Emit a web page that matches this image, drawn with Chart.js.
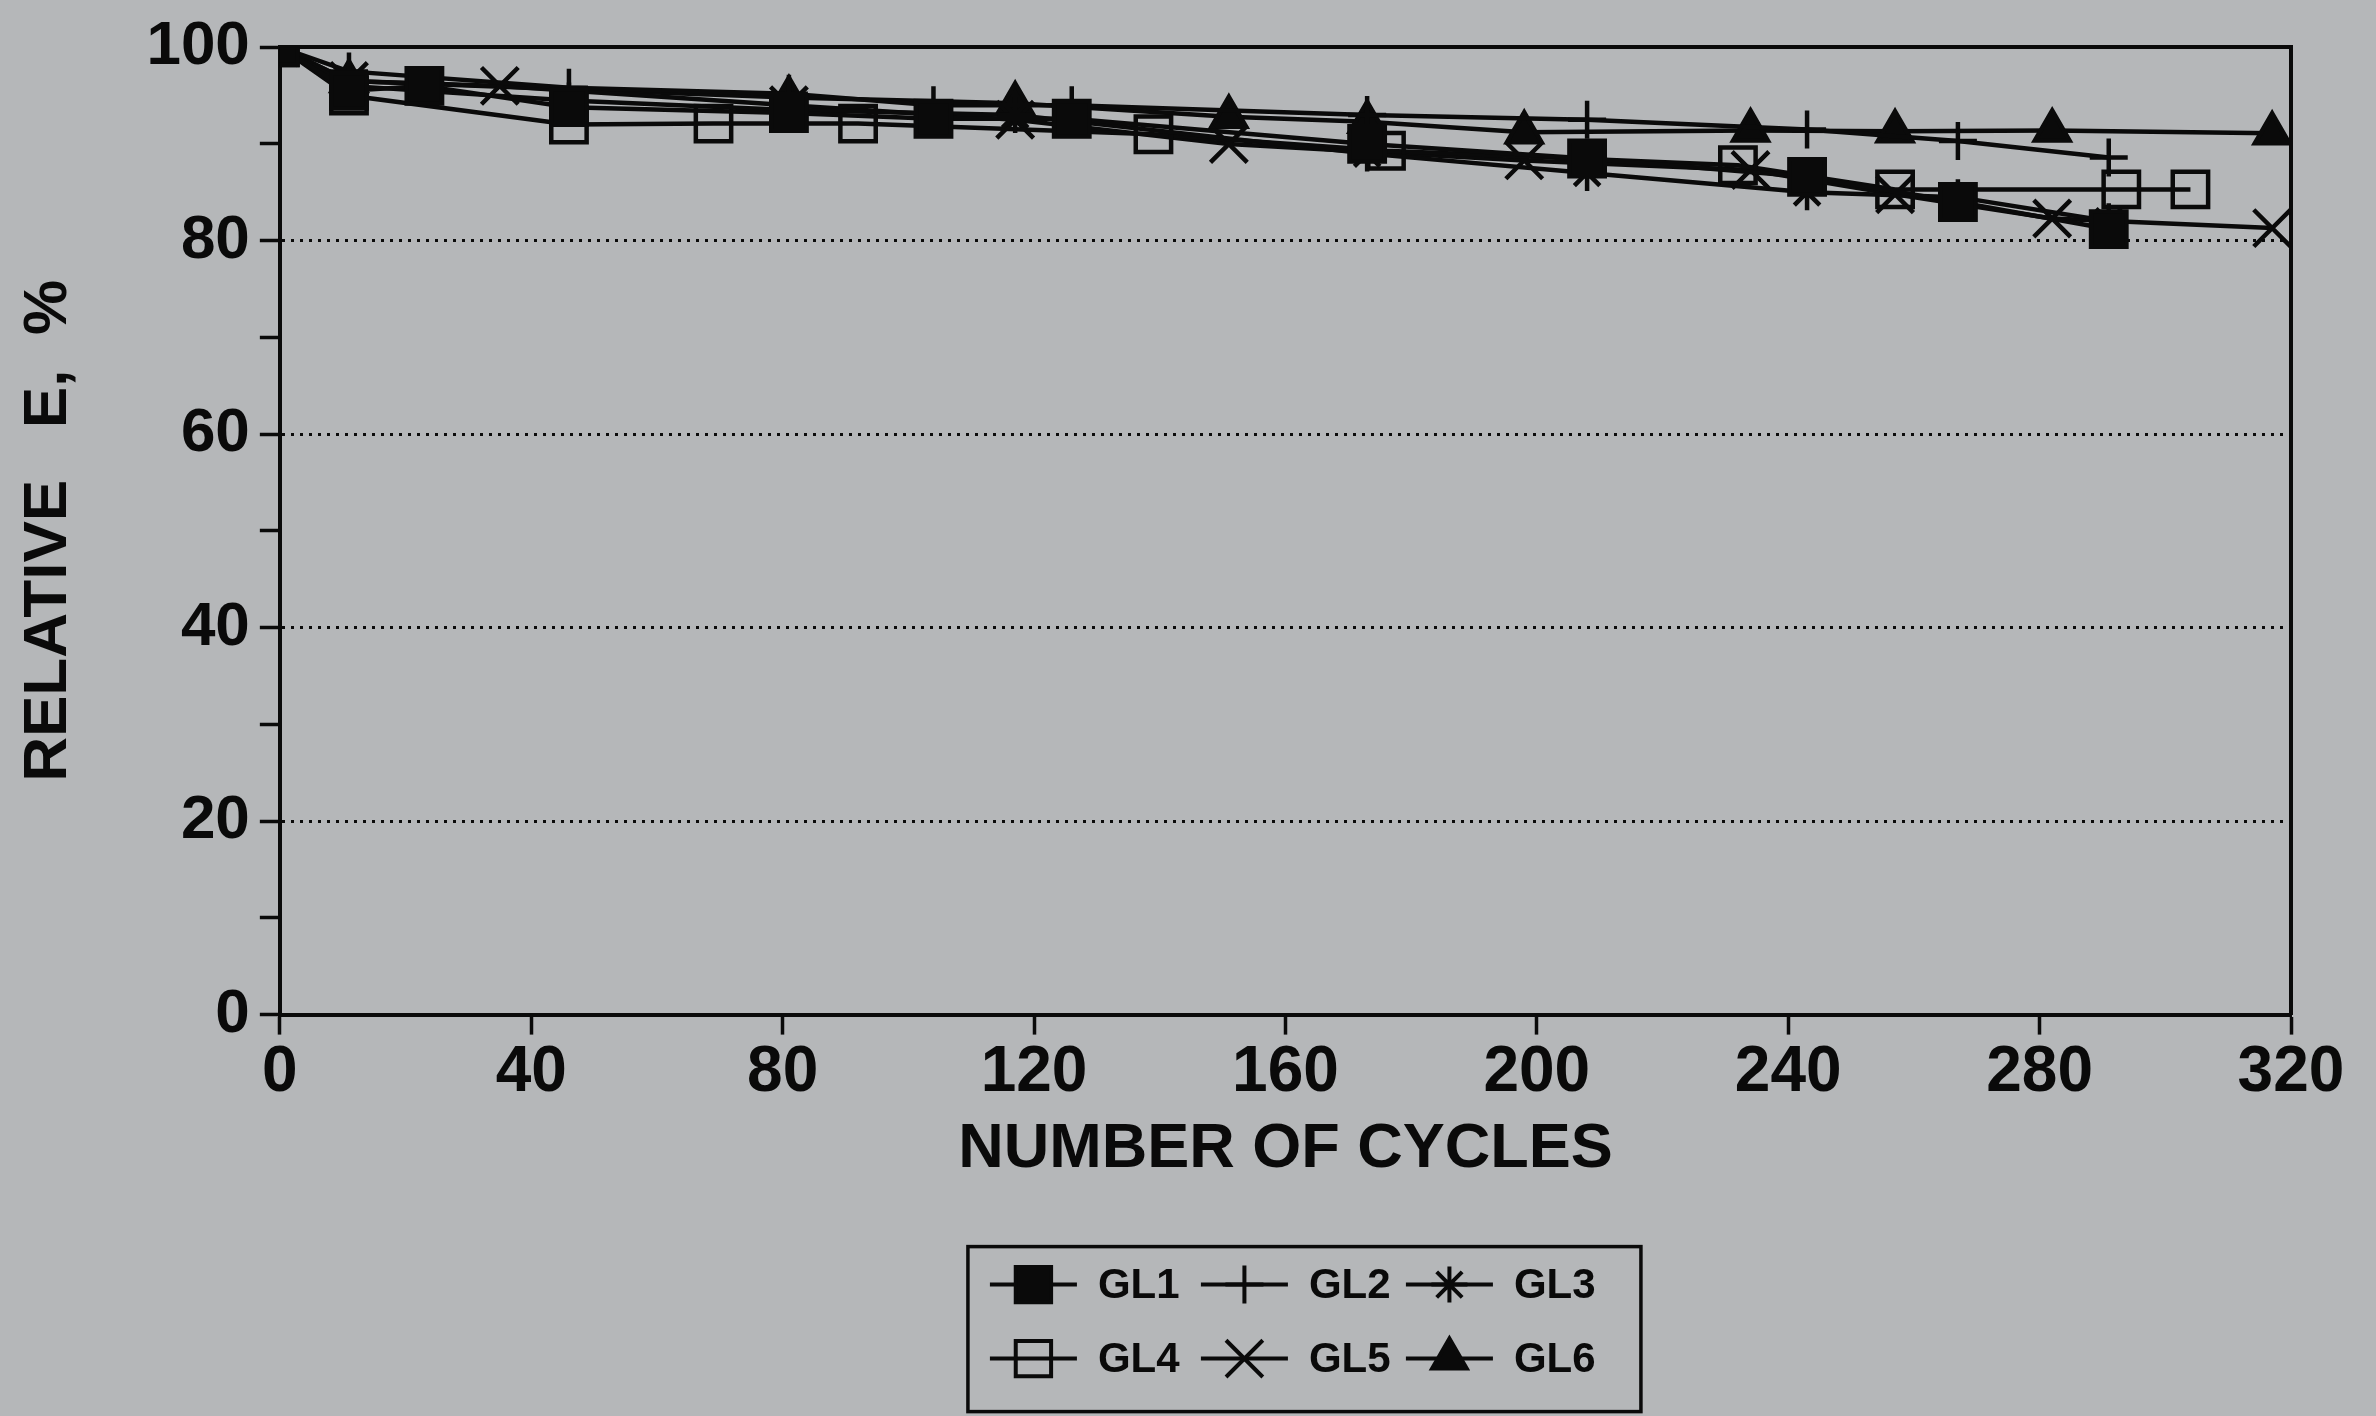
<!DOCTYPE html>
<html>
<head>
<meta charset="utf-8">
<script src="https://cdn.jsdelivr.net/npm/chart.js"></script>
<style>
  html, body { margin: 0; padding: 0; background: #b5b7b9; }
  #wrap { width: 2376px; height: 1416px; position: relative; }
</style>
</head>
<body>
<div id="wrap"><canvas id="chart"></canvas></div>
<script>
// values (relative E in % vs number of cycles)
const seriesNames = ['GL1', 'GL2', 'GL3', 'GL4', 'GL5', 'GL6'];

const gl1Cycles = [0, 11, 23, 46, 81, 104, 126, 173, 208, 243, 267, 291];
const gl1Values = [100, 95.5, 96, 93.8, 93.2, 92.6, 92.6, 90, 88.5, 86.6, 84, 81.2];

const gl2Cycles = [0, 11, 46, 81, 104, 126, 173, 208, 243, 267, 291];
const gl2Values = [100, 97.5, 95.8, 95.2, 94, 94, 93, 92.5, 91.5, 90.3, 88.6];

const gl3Cycles = [0, 11, 46, 81, 117, 173, 208, 243, 267, 291];
const gl3Values = [100, 96, 94.5, 93.5, 93, 89, 87, 85, 84.5, 82];

const gl4Cycles = [0, 11, 46, 69, 92, 139, 176, 232, 257, 293, 304];
const gl4Values = [100, 95, 92, 92.1, 92.1, 91, 89.3, 87.8, 85.3, 85.3, 85.3];

const gl5Cycles = [0, 11, 35, 81, 117, 151, 198, 234, 257, 282, 317];
const gl5Values = [100, 96.5, 96, 94, 92.5, 90, 88.3, 87.3, 84.8, 82.3, 81.3];

const gl6Cycles = [0, 11, 81, 117, 151, 173, 198, 234, 257, 282, 317];
const gl6Values = [100, 96.5, 94.8, 94.2, 92.8, 92.3, 91.2, 91.4, 91.3, 91.4, 91.1];

const xTicks = [0, 40, 80, 120, 160, 200, 240, 280, 320];
const yLabelTicks = [0, 20, 40, 60, 80, 100];
const yGridTicks = [20, 40, 60, 80];

const BG = '#b5b7b9';
const INK = '#0a0a0a';
const FONT = '"Liberation Sans", Arial, Helvetica, sans-serif';

const markerStyles = [
    { pointStyle: 'rect', radius: 25, fill: INK },
    { pointStyle: 'cross', radius: 19, fill: INK },
    { pointStyle: 'star', radius: 18, fill: INK },
    { pointStyle: 'rect', radius: 25, fill: 'rgba(0,0,0,0)' },
    { pointStyle: 'crossRot', radius: 26, fill: INK },
    { pointStyle: 'triangle', radius: 20, fill: INK }
];

function toPoints(xs, ys) {
    return xs.map((x, i) => ({ x: x, y: ys[i] }));
}

const allCycles = [gl1Cycles, gl2Cycles, gl3Cycles, gl4Cycles, gl5Cycles, gl6Cycles];
const allValues = [gl1Values, gl2Values, gl3Values, gl4Values, gl5Values, gl6Values];

const datasets = seriesNames.map((name, i) => ({
    label: name,
    data: toPoints(allCycles[i], allValues[i]),
    borderColor: INK,
    borderWidth: 4.5,
    tension: 0,
    pointStyle: markerStyles[i].pointStyle,
    pointRadius: markerStyles[i].radius,
    pointBackgroundColor: markerStyles[i].fill,
    pointBorderColor: INK,
    pointBorderWidth: 4.5
}));

// grey paper behind everything
const paperPlugin = {
    id: 'paper',
    beforeDraw(chart) {
        const ctx = chart.ctx;
        ctx.save();
        ctx.fillStyle = BG;
        ctx.fillRect(0, 0, chart.width, chart.height);
        ctx.restore();
    }
};

// boxed legend, 3 items per row, line through the marker
const boxLegendPlugin = {
    id: 'boxLegend',
    afterDraw(chart) {
        const ctx = chart.ctx;
        const area = chart.chartArea;
        const boxW = 673, boxH = 165;
        const left = (area.left + area.right) / 2 + 19 - boxW / 2;
        const top = area.bottom + 232;
        ctx.save();
        ctx.strokeStyle = INK;
        ctx.lineWidth = 3.5;
        ctx.strokeRect(left, top, boxW, boxH);

        const colX = [22, 233, 438];
        const rowY = [38, 112];
        const symW = 87;
        ctx.font = 'bold 42px ' + FONT;
        ctx.textBaseline = 'middle';
        ctx.textAlign = 'left';
        chart.data.datasets.forEach((ds, i) => {
            const sx = left + colX[i % 3];
            const sy = top + rowY[Math.floor(i / 3)];
            ctx.strokeStyle = INK;
            ctx.lineWidth = 4;
            ctx.beginPath();
            ctx.moveTo(sx, sy);
            ctx.lineTo(sx + symW, sy);
            ctx.stroke();
            ctx.fillStyle = ds.pointBackgroundColor;
            ctx.strokeStyle = INK;
            ctx.lineWidth = 4;
            Chart.helpers.drawPoint(ctx, {
                pointStyle: ds.pointStyle,
                radius: ds.pointRadius,
                rotation: 0,
                borderWidth: 4
            }, sx + symW / 2, sy);
            ctx.fillStyle = INK;
            ctx.fillText(ds.label, sx + 108, sy + 2);
        });
        ctx.restore();
    }
};

const ctx = document.getElementById('chart').getContext('2d');
const chart = new Chart(ctx, {
    type: 'line',
    data: { datasets: datasets },
    plugins: [paperPlugin, boxLegendPlugin],
    options: {
        responsive: true,
        maintainAspectRatio: false,
        animation: false,
        layout: { padding: { top: 37, right: 77, bottom: 229, left: 0 } },
        plugins: {
            legend: { display: false },
            tooltip: { enabled: false }
        },
        scales: {
            x: {
                type: 'linear',
                position: 'bottom',
                min: 0,
                max: 320,
                afterBuildTicks: (axis) => { axis.ticks = xTicks.map(v => ({ value: v })); },
                ticks: {
                    color: INK,
                    font: { family: FONT, size: 64, weight: 'bold' },
                    padding: 0,
                    maxRotation: 0,
                    autoSkip: false
                },
                grid: {
                    drawOnChartArea: false,
                    tickLength: 20,
                    tickColor: INK,
                    tickWidth: 3.5
                },
                border: { color: INK, width: 4 },
                title: {
                    display: true,
                    text: 'NUMBER OF CYCLES',
                    color: INK,
                    font: { family: FONT, size: 63, weight: 'bold' },
                    padding: { top: 0, bottom: 0 }
                }
            },
            xTop: {
                type: 'linear',
                position: 'top',
                min: 0,
                max: 320,
                ticks: { display: false },
                grid: { display: false },
                border: { color: INK, width: 4 }
            },
            y: {
                type: 'linear',
                position: 'left',
                min: 0,
                max: 100,
                ticks: {
                    stepSize: 10,
                    color: INK,
                    font: { family: FONT, size: 62, weight: 'bold' },
                    padding: 10,
                    autoSkip: false,
                    callback: (v) => yLabelTicks.includes(v) ? String(v) : ''
                },
                grid: {
                    color: (c) => (c.tick && yGridTicks.includes(c.tick.value)) ? INK : 'rgba(0,0,0,0)',
                    lineWidth: 3,
                    tickLength: 20,
                    tickColor: INK,
                    tickWidth: 3.5
                },
                border: { color: INK, width: 4, dash: [3, 6] },
                title: {
                    display: true,
                    text: 'RELATIVE   E,  %',
                    color: INK,
                    font: { family: FONT, size: 62, weight: 'bold' },
                    padding: { top: 12, bottom: 50 }
                }
            },
            yRight: {
                type: 'linear',
                position: 'right',
                min: 0,
                max: 100,
                ticks: { display: false },
                grid: { display: false },
                border: { color: INK, width: 4 }
            }
        }
    }
});
</script>
</body>
</html>
